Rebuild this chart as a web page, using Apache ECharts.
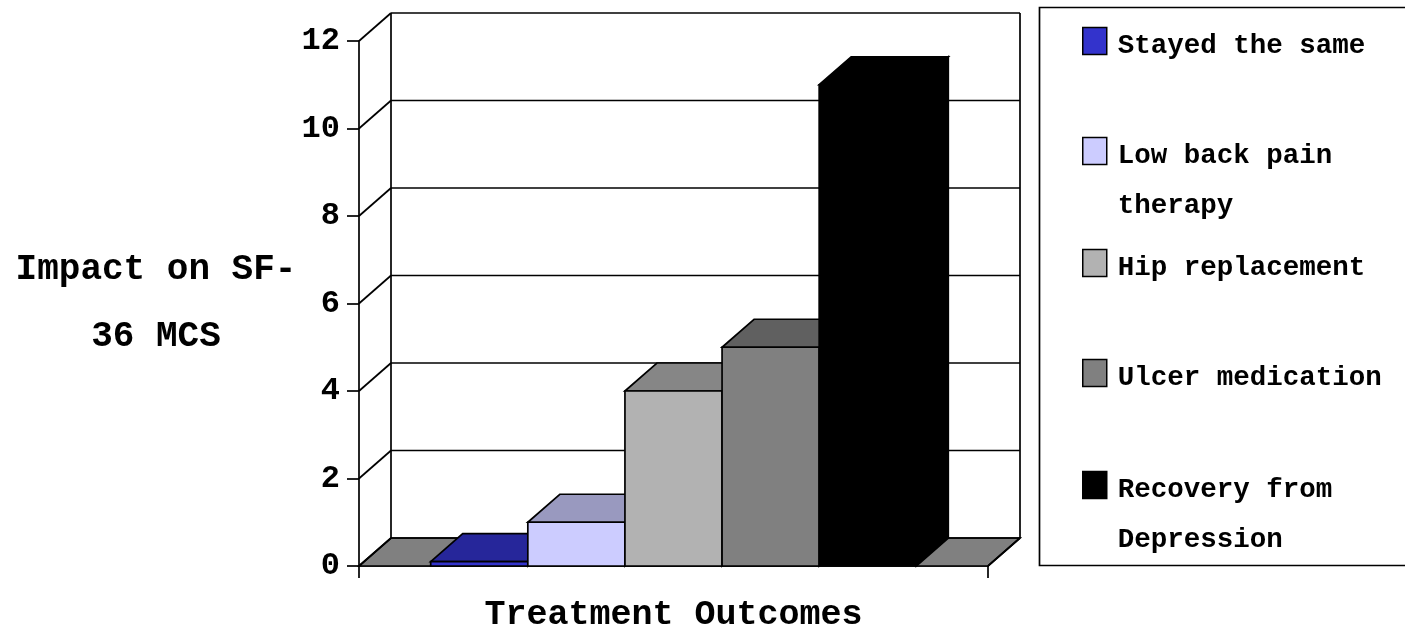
<!DOCTYPE html>
<html>
<head>
<meta charset="utf-8">
<style>html,body{margin:0;padding:0;background:#fff}#c{width:1405px;height:632px}</style>
<script src="https://cdn.jsdelivr.net/npm/echarts@6/dist/echarts.min.js"></script>
</head>
<body>
<div id="c"></div>
<script>
const categories = [''];
const seriesNames = ['Stayed the same', 'Low back pain\ntherapy', 'Hip replacement', 'Ulcer medication', 'Recovery from\nDepression'];
const seriesValues = [0.1, 1, 4, 5, 11];
const frontColors = ['#3333cc', '#ccccff', '#b2b2b2', '#808080', '#000000'];
const topColors = ['#26269a', '#9999bf', '#868686', '#606060', '#000000'];
const sideColors = ['#1f1f80', '#8080a0', '#707070', '#505050', '#000000'];
const yTicks = [0, 2, 4, 6, 8, 10, 12];
const legendTops = [22, 82, 244, 354, 416];

const DX = 32, DY = -28, FONT = 'Liberation Mono', LW = 1.7;
const chart = echarts.init(document.getElementById('c'), null, {renderer: 'canvas'});

function poly(points, fill, stroke) {
  return {type: 'polygon', shape: {points}, style: {fill, stroke: stroke || '#000', lineWidth: LW, lineJoin: 'miter'}};
}
function line(a, b) {
  return {type: 'line', shape: {x1: a[0], y1: a[1], x2: b[0], y2: b[1]}, style: {stroke: '#000', lineWidth: LW}};
}
function renderWalls(params, api) {
  const c = api.coord([0, 0]);
  const band = api.size([1, 0])[0];
  const l = c[0] - band / 2, r = c[0] + band / 2, y0 = c[1];
  const children = [];
  children.push(poly([[l, y0], [r, y0], [r + DX, y0 + DY], [l + DX, y0 + DY]], '#808080'));
  yTicks.forEach(v => {
    const y = api.coord([0, v])[1];
    children.push(line([l, y], [l + DX, y + DY]));
    children.push(line([l + DX, y + DY], [r + DX, y + DY]));
  });
  const yTop = api.coord([0, yTicks[yTicks.length - 1]])[1];
  children.push(line([l + DX, y0 + DY], [l + DX, yTop + DY]));
  children.push(line([r + DX, y0 + DY], [r + DX, yTop + DY]));
  children.push(line([r, y0], [r + DX, y0 + DY]));
  return {type: 'group', children};
}
function renderBar(i) {
  return function (params, api) {
    const c = api.coord([0, 0]);
    const t = api.coord([0, api.value(1)]);
    const band = api.size([1, 0])[0];
    const w = band * 0.772 / seriesNames.length;
    const x0 = c[0] - w * seriesNames.length / 2 + i * w, x1 = x0 + w;
    const y0 = c[1], y1 = t[1];
    return {type: 'group', children: [
      poly([[x1, y0], [x1 + DX, y0 + DY], [x1 + DX, y1 + DY], [x1, y1]], sideColors[i]),
      poly([[x0, y1], [x1, y1], [x1 + DX, y1 + DY], [x0 + DX, y1 + DY]], topColors[i]),
      poly([[x0, y0], [x1, y0], [x1, y1], [x0, y1]], frontColors[i])
    ]};
  };
}

const series = [{
  type: 'custom', name: 'walls', clip: false, silent: true, z: 1,
  renderItem: renderWalls, data: [[0, 0]], encode: {x: 0, y: 1}
}].concat(seriesNames.map((name, i) => ({
  type: 'custom', name, clip: false, z: 2 + i,
  renderItem: renderBar(i),
  itemStyle: {color: frontColors[i]},
  data: [[0, seriesValues[i]]], encode: {x: 0, y: 1}
})));

function legendLabel(name) {
  const lines = name.split('\n').map(s => '{a|' + s + '}');
  return (lines.length > 1 ? ['{a| }'].concat(lines) : lines).join('\n');
}
const legends = seriesNames.map((name, i) => ({
  left: 1082, top: legendTops[i], orient: 'vertical', padding: 0,
  selectedMode: false, itemWidth: 24, itemHeight: 27, itemGap: 0,
  icon: 'rect', itemStyle: {borderColor: '#000', borderWidth: 1.5},
  data: [name],
  formatter: legendLabel,
  textStyle: {
    fontFamily: FONT, fontWeight: 'bold', fontSize: 27.5, color: '#000',
    rich: {a: {fontFamily: FONT, fontWeight: 'bold', fontSize: 27.5, lineHeight: 50, color: '#000', padding: [10, 0, 0, 6]}}
  }
}));

chart.setOption({
  animation: false,
  backgroundColor: '#fff',
  grid: {left: 359, right: 417, top: 41, bottom: 66, containLabel: false, outerBoundsMode: 'none'},
  xAxis: {
    type: 'category', data: categories,
    axisLine: {lineStyle: {color: '#000', width: LW}},
    axisTick: {show: true, length: 12, lineStyle: {color: '#000', width: LW}, alignWithLabel: false},
    axisLabel: {show: false},
    name: 'Treatment Outcomes', nameLocation: 'middle', nameGap: 32,
    nameTextStyle: {fontFamily: FONT, fontWeight: 'bold', fontSize: 35, color: '#000'}
  },
  yAxis: {
    type: 'value', min: 0, max: 12, interval: 2,
    axisLine: {show: true, lineStyle: {color: '#000', width: LW}},
    axisTick: {show: true, length: 12, lineStyle: {color: '#000', width: LW}},
    axisLabel: {margin: 19, fontFamily: FONT, fontWeight: 'bold', fontSize: 32, color: '#000'},
    splitLine: {show: false},
    name: 'Impact on SF-\n36 MCS', nameLocation: 'middle', nameRotate: 0, nameGap: 203,
    nameTextStyle: {fontFamily: FONT, fontWeight: 'bold', fontSize: 36, lineHeight: 67, color: '#000', align: 'center'}
  },
  legend: legends,
  graphic: [{
    type: 'rect', shape: {x: 1039.5, y: 7.5, width: 400, height: 558},
    style: {fill: 'none', stroke: '#000', lineWidth: 1.7}, silent: true, z: 0
  }],
  series
});
</script>
</body>
</html>
